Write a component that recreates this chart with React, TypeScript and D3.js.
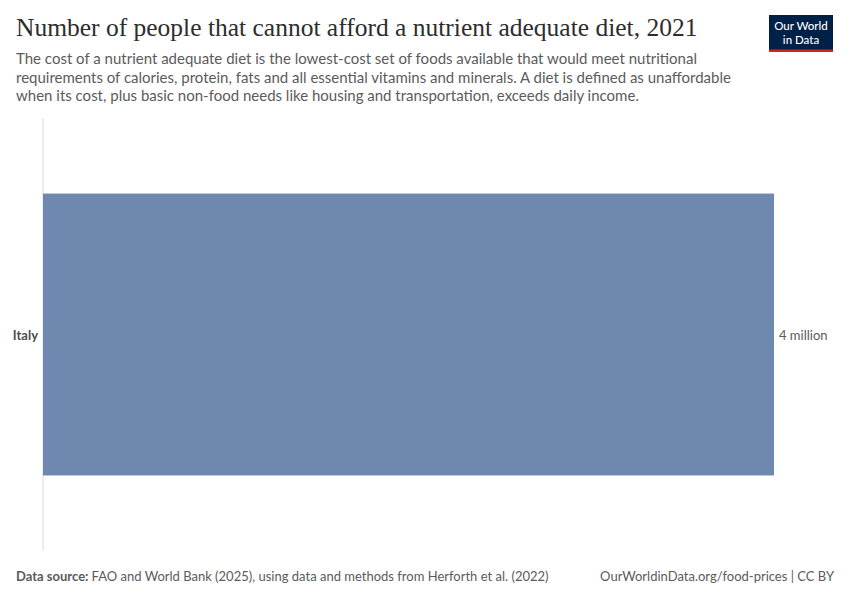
import React from "react";
import * as d3 from "d3";

const countries = ["Italy"];
const values = [3950000];
const valueLabels = ["4 million"];

const title = "Number of people that cannot afford a nutrient adequate diet, 2021";
const subtitleLines = [
  "The cost of a nutrient adequate diet is the lowest-cost set of foods available that would meet nutritional",
  "requirements of calories, protein, fats and all essential vitamins and minerals. A diet is defined as unaffordable",
  "when its cost, plus basic non-food needs like housing and transportation, exceeds daily income.",
];

export default function App() {
  const W = 850, H = 600;
  const left = 43, right = 774, top = 118, bottom = 551;
  const x = d3.scaleLinear().domain([0, d3.max(values) as number]).range([left, right]);
  const y = d3.scaleBand().domain(countries).range([top, bottom]).paddingInner(0).paddingOuter(0.268);
  const font = "Lato, 'Noto Sans', sans-serif";
  return (
    <svg width={W} height={H} style={{ position: "absolute", left: 0, top: 0, background: "#fff" }} fontFamily={font}>
      <rect width={W} height={H} fill="#fff" />
      <text x={16} y={36} fontFamily="'Liberation Serif', 'DejaVu Serif', serif" fontSize={25.5} fill="#2d2d2d">{title}</text>
      {subtitleLines.map((l, i) => (
        <text key={i} x={16} y={64 + i * 18.5} fontSize={15} fill="#5b5b5b">{l}</text>
      ))}
      <g>
        <rect x={769} y={15} width={64} height={37} fill="#002147" />
        <rect x={769} y={49.5} width={64} height={2.5} fill="#ce261e" />
        <text x={801} y={30} textAnchor="middle" fontSize={11.5} fill="#fff" fontWeight={500}>Our World</text>
        <text x={801} y={44} textAnchor="middle" fontSize={11.5} fill="#fff" fontWeight={500}>in Data</text>
      </g>
      <line x1={left} x2={left} y1={top} y2={bottom} stroke="#dadada" strokeWidth={1} />
      {countries.map((c, i) => {
        const by = y(c)!;
        const bh = y.bandwidth();
        return (
          <g key={c}>
            <rect x={x(0)} y={by} width={x(values[i]) - x(0)} height={bh} fill="#6f88b0" />
            <text x={38} y={by + bh / 2 + 1} dy="0.35em" textAnchor="end" fontSize={13} fontWeight={700} fill="#4e4e4e">{c}</text>
            <text x={x(values[i]) + 5} y={by + bh / 2 + 1} dy="0.35em" fontSize={13} fill="#5b5b5b">{valueLabels[i]}</text>
          </g>
        );
      })}
      <text x={16} y={581} fontSize={13} fill="#5b5b5b">
        <tspan fontWeight={700}>Data source: </tspan>FAO and World Bank (2025), using data and methods from Herforth et al. (2022)
      </text>
      <text x={834} y={581} textAnchor="end" fontSize={13} fill="#5b5b5b">OurWorldinData.org/food-prices | CC BY</text>
    </svg>
  );
}
